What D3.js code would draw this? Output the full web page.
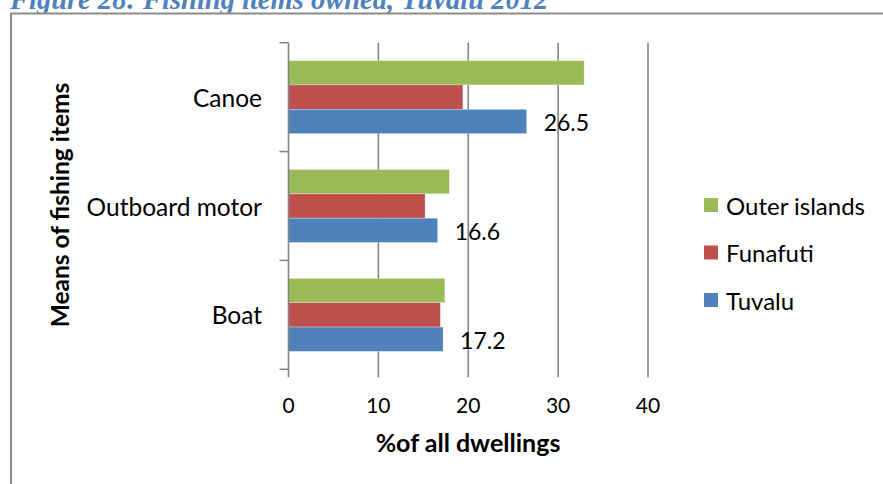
<!DOCTYPE html>
<html>
<head>
<meta charset="utf-8">
<script src="https://cdn.jsdelivr.net/npm/d3@7/dist/d3.min.js"></script>
<style>
  html, body { margin: 0; padding: 0; background: #ffffff; }
  svg { display: block; }
  text { font-family: Lato, "Open Sans", sans-serif; fill: #000; }
</style>
</head>
<body>
<svg id="chart" width="883" height="484"></svg>
<script>
// Fishing items owned by households, Tuvalu 2012 (% of all dwellings)
const categories = ["Canoe", "Outboard motor", "Boat"];
const seriesNames = ["Outer islands", "Funafuti", "Tuvalu"];
const outerIslands = [32.9, 17.9, 17.4];
const funafuti = [19.4, 15.2, 16.9];
const tuvalu = [26.5, 16.6, 17.2];
const xTicks = [0, 10, 20, 30, 40];
const colors = ["#9BBB59", "#C0504D", "#4F81BD"];

const values = [outerIslands, funafuti, tuvalu];

const svg = d3.select("#chart");

// title, partly cut off at the top edge
svg.append("text")
  .attr("x", 10).attr("y", 9)
  .style("font-family", "'Liberation Serif', serif")
  .style("font-weight", "bold").style("font-style", "italic")
  .style("font-size", "28.5px").style("fill", "#4F81BD")
  .text("Figure 28: Fishing items owned, Tuvalu 2012");

// chart frame
svg.append("rect")
  .attr("x", 11).attr("y", 13.5).attr("width", 880).attr("height", 500)
  .attr("fill", "#fff").attr("stroke", "#8c8c8c").attr("stroke-width", 2);

const plot = { left: 288.5, right: 648, top: 42.7, bottom: 369.3 };

const x = d3.scaleLinear().domain([0, 40]).range([plot.left, plot.right]);
const y = d3.scaleBand().domain(categories).range([plot.top, plot.bottom]).padding(0);
const groupFrac = 0.671;
const yInner = d3.scaleBand().domain(seriesNames)
  .range([y.bandwidth() * (1 - groupFrac) / 2, y.bandwidth() * (1 + groupFrac) / 2]);

const gridColor = "#868686";

// vertical gridlines with short ticks below the plot
svg.append("g").selectAll("line").data(xTicks.filter(d => d > 0)).join("line")
  .attr("x1", d => x(d)).attr("x2", d => x(d))
  .attr("y1", plot.top).attr("y2", plot.bottom + 8)
  .attr("stroke", gridColor).attr("stroke-width", 1.6);

// bars
const rows = categories.map((c, i) => ({ cat: c, vals: seriesNames.map((s, j) => ({ s, v: values[j][i], j })) }));
const grp = svg.append("g").selectAll("g").data(rows).join("g")
  .attr("transform", d => `translate(0,${y(d.cat)})`);
grp.selectAll("rect").data(d => d.vals).join("rect")
  .attr("x", x(0))
  .attr("y", d => yInner(d.s))
  .attr("width", d => x(d.v) - x(0))
  .attr("height", yInner.bandwidth())
  .attr("fill", d => colors[d.j])
  .attr("stroke", "rgba(255,255,255,0.5)").attr("stroke-width", 0.6);

// value labels for the Tuvalu series
grp.append("text")
  .attr("x", d => x(d.vals[2].v) + 17)
  .attr("y", d => yInner("Tuvalu") + yInner.bandwidth() / 2 + 1)
  .attr("dominant-baseline", "central")
  .style("font-size", "23px")
  .text(d => d.vals[2].v.toFixed(1));

// category axis
const yAxisG = svg.append("g");
yAxisG.append("line")
  .attr("x1", plot.left).attr("x2", plot.left)
  .attr("y1", plot.top).attr("y2", plot.bottom + 8)
  .attr("stroke", gridColor).attr("stroke-width", 1.6);
const bounds = [plot.top, ...categories.map(c => y(c) + y.bandwidth())];
yAxisG.selectAll("line.tk").data(bounds).join("line").attr("class", "tk")
  .attr("x1", plot.left - 9).attr("x2", plot.left)
  .attr("y1", d => d).attr("y2", d => d)
  .attr("stroke", gridColor).attr("stroke-width", 1.6);
yAxisG.selectAll("text").data(categories).join("text")
  .attr("x", 262).attr("y", d => y(d) + y.bandwidth() / 2)
  .attr("text-anchor", "end").attr("dominant-baseline", "central")
  .style("font-size", "24.5px")
  .text(d => d);

// value axis labels
svg.append("g").selectAll("text").data(xTicks).join("text")
  .attr("x", d => x(d)).attr("y", 404)
  .attr("text-anchor", "middle").attr("dominant-baseline", "central")
  .style("font-size", "21px")
  .text(d => d);

// axis titles
svg.append("text")
  .attr("x", 468).attr("y", 452)
  .attr("text-anchor", "middle")
  .style("font-size", "25px").style("font-weight", "bold")
  .text("%of all dwellings");
svg.append("text")
  .attr("transform", "translate(69,205) rotate(-90)")
  .attr("text-anchor", "middle")
  .style("font-size", "24.5px").style("font-weight", "bold")
  .text("Means of fishing items");

// legend
const legend = svg.append("g").selectAll("g").data(seriesNames).join("g")
  .attr("transform", (d, i) => `translate(704,${205 + i * 47.5})`);
legend.append("rect")
  .attr("x", 0).attr("y", -7).attr("width", 14).attr("height", 14)
  .attr("fill", (d, i) => colors[i]);
legend.append("text")
  .attr("x", 22).attr("y", 0).attr("dominant-baseline", "central")
  .style("font-size", "24px")
  .text(d => d);
</script>
</body>
</html>
